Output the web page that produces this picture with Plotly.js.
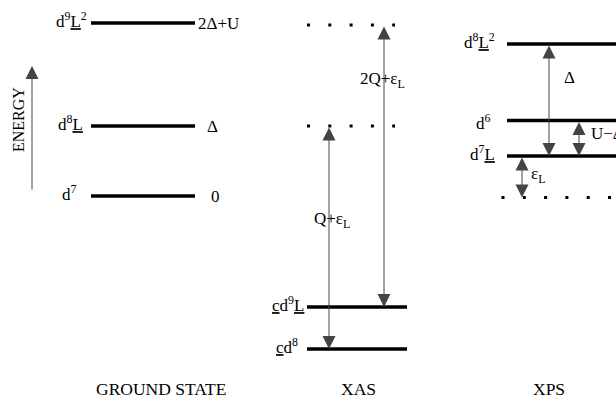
<!DOCTYPE html>
<html>
<head>
<meta charset="utf-8">
<script src="https://cdn.plot.ly/plotly-3.0.1.min.js"></script>
<style>html,body{margin:0;padding:0;background:#fff;}#chart{width:616px;height:399px;}</style>
</head>
<body>
<div id="chart"></div>
<script>
// ---- data (energies in arbitrary units, ground-state d7 = 0) ----
const groundStates = ['d<sup>7</sup>', 'd<sup>8</sup><u>L</u>', 'd<sup>9</sup><u>L</u><sup>2</sup>'];
const groundEnergy = [0, 70, 173];
const groundValueLabels = ['0', 'Δ', '2Δ+U'];

const xasFinalStates = ['<u>c</u>d<sup>8</sup>', '<u>c</u>d<sup>9</sup><u>L</u>'];
const xasFinalEnergy = [-153, -111];
const xasDottedEnergy = [70, 171];
const xasTransitions = ['Q+ε<sub>L</sub>', '2Q+ε<sub>L</sub>'];

const xpsStates = ['d<sup>7</sup><u>L</u>', 'd<sup>6</sup>', 'd<sup>8</sup><u>L</u><sup>2</sup>'];
const xpsEnergy = [40, 75.5, 152];
const xpsDottedEnergy = [-1.5];
const xpsGapLabels = ['ε<sub>L</sub>', 'U−Δ', 'Δ'];

const panelTitles = ['GROUND STATE', 'XAS', 'XPS'];
const energyAxisLabel = 'ENERGY';

// ---- layout config (positions / styles) ----
const FONT = 'Liberation Serif';
const col = {
  ground: {x0: 91, x1: 195, labelX: [79, 85, 89], valueX: [215, 212, 196], valueAnchor: ['center', 'center', 'left'], titleX: 161},
  xas: {x0: 307, x1: 407, dot0: 307, dot1: 395, labelX: [300, 306], arrowX: [329, 384], textX: [332, 382], textY: [-24, 116], titleX: 358},
  xps: {x0: 507, x1: 625, dot0: 501.5, dot1: 612, labelX: [497, 493, 497], labelShift: [3, -1, 3], arrowX: [522, 579, 549], gapShift: [2, 5, 23], titleX: 549}
};
const yTitle = -193;
const lineStyle = {color: '#000', width: 3.5};
const dotStyle = {color: '#000', width: 3, dash: '3px,18.3px'};
const arrowColor = '#444';
const LBL = 17, TTL = 17.5;

const traces = [];
function level(x0, x1, e, style) {
  traces.push({x: [x0, x1], y: [e, e], mode: 'lines', line: style, hoverinfo: 'skip', showlegend: false, type: 'scatter'});
}
groundEnergy.forEach(e => level(col.ground.x0, col.ground.x1, e, lineStyle));
xasFinalEnergy.forEach(e => level(col.xas.x0, col.xas.x1, e, lineStyle));
xasDottedEnergy.forEach(e => level(col.xas.dot0, col.xas.dot1, e, dotStyle));
xpsEnergy.forEach(e => level(col.xps.x0, col.xps.x1, e, lineStyle));
xpsDottedEnergy.forEach(e => level(col.xps.dot0, col.xps.dot1, e, dotStyle));

const ann = [];
const tf = (size) => ({family: FONT, size: size, color: '#000'});
function label(x, y, text, xanchor, size, yshift) {
  ann.push({x: x, y: y, xref: 'x', yref: 'y', text: text, showarrow: false, xanchor: xanchor, yanchor: 'middle', font: tf(size), yshift: yshift || 0});
}
function arrow(x, yHead, yTail, both) {
  ann.push({x: x, y: yHead, ax: x, ay: yTail, xref: 'x', yref: 'y', axref: 'x', ayref: 'y', text: '', showarrow: true,
    arrowhead: 2, arrowsize: 2.6, arrowwidth: 1, arrowcolor: arrowColor, standoff: 0, startstandoff: 0,
    arrowside: both ? 'end+start' : 'end', startarrowhead: 2, startarrowsize: 2.6});
}

// ground state
groundStates.forEach((s, i) => {
  label(col.ground.labelX[i], groundEnergy[i], s, 'right', LBL, 3);
  label(col.ground.valueX[i], groundEnergy[i], groundValueLabels[i], col.ground.valueAnchor[i], LBL, 0);
});
// XAS
xasFinalStates.forEach((s, i) => label(col.xas.labelX[i], xasFinalEnergy[i], s, 'right', LBL, 3));
arrow(col.xas.arrowX[0], xasFinalEnergy[0], xasDottedEnergy[0], true);
arrow(col.xas.arrowX[1], xasFinalEnergy[1], xasDottedEnergy[1], true);
xasTransitions.forEach((t, i) => label(col.xas.textX[i], col.xas.textY[i], t, 'center', LBL, 0));
// XPS
xpsStates.forEach((s, i) => label(col.xps.labelX[i], xpsEnergy[i], s, 'right', LBL, col.xps.labelShift[i]));
arrow(col.xps.arrowX[0], xpsDottedEnergy[0], xpsEnergy[0], true);
arrow(col.xps.arrowX[1], xpsEnergy[0], xpsEnergy[1], true);
arrow(col.xps.arrowX[2], xpsEnergy[0], xpsEnergy[2], true);
label(col.xps.arrowX[0] + 7, (xpsEnergy[0] + xpsDottedEnergy[0]) / 2 + col.xps.gapShift[0], xpsGapLabels[0], 'left', LBL, 0);
label(col.xps.arrowX[1] + 10, (xpsEnergy[0] + xpsEnergy[1]) / 2 + col.xps.gapShift[1], xpsGapLabels[1], 'left', LBL, 0);
label(col.xps.arrowX[2] + 13, (xpsEnergy[0] + xpsEnergy[2]) / 2 + col.xps.gapShift[2], xpsGapLabels[2], 'left', LBL, 0);

// ENERGY axis arrow
arrow(32, 130, 5, false);
ann.push({x: 18, y: 76, xref: 'x', yref: 'y', text: energyAxisLabel, showarrow: false, textangle: -90, font: tf(16)});

// panel titles
[col.ground.titleX, col.xas.titleX, col.xps.titleX].forEach((x, i) => {
  ann.push({x: x, y: yTitle, xref: 'x', yref: 'y', text: panelTitles[i], showarrow: false, xanchor: 'center', yanchor: 'middle', font: tf(TTL)});
});

const layout = {
  width: 616, height: 399,
  margin: {l: 0, r: 0, t: 0, b: 0},
  paper_bgcolor: '#fff', plot_bgcolor: '#fff',
  font: {family: FONT},
  xaxis: {range: [0, 616], visible: false, fixedrange: true},
  yaxis: {range: [-203, 196], visible: false, fixedrange: true},
  showlegend: false,
  annotations: ann
};
Plotly.newPlot('chart', traces, layout, {staticPlot: true});
</script>
</body>
</html>
